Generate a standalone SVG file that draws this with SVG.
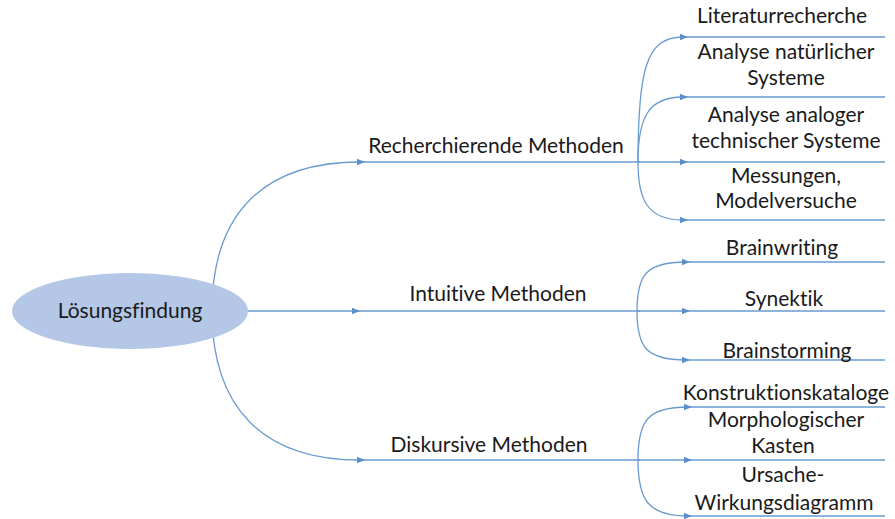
<svg xmlns="http://www.w3.org/2000/svg" xmlns:xlink="http://www.w3.org/1999/xlink" width="895" height="519" viewBox="0 0 895 519">
<defs>
<path id="ah" d="M-8,-3.2 L0,0 L-8,3.2 Z" fill="#5b8fc9"/>
<style>
.c{fill:none;stroke:#6a9bd1;stroke-width:1.3}
.t{font-family:Lato,"Liberation Sans",sans-serif;font-size:21px;fill:#1a1a1a;text-anchor:middle;font-variant-ligatures:none;font-feature-settings:"liga" 0,"dlig" 0}
</style>
</defs>
<rect width="895" height="519" fill="#ffffff"/>
<g id="connectors">
<path class="c" d="M212,311 C212,215 262,162 360,162 L640,162"/>
<path class="c" d="M212,311 C212,407 262,460 360,460 L640,460"/>
<path class="c" d="M248,311 L640,311"/>
<use href="#ah" xlink:href="#ah" x="365" y="162"/>
<use href="#ah" xlink:href="#ah" x="360" y="311"/>
<use href="#ah" xlink:href="#ah" x="365" y="460"/>
<path class="c" d="M638,162 C638,70 646,37 683,37 L885,37"/>
<path class="c" d="M638,162 C638,118 648,97 683,97 L885,97"/>
<path class="c" d="M638,162 L885,162"/>
<path class="c" d="M638,162 C638,198 646,220 683,220 L885,220"/>
<use href="#ah" xlink:href="#ah" x="688" y="37"/>
<use href="#ah" xlink:href="#ah" x="688" y="97"/>
<use href="#ah" xlink:href="#ah" x="688" y="162"/>
<use href="#ah" xlink:href="#ah" x="688" y="220"/>
<path class="c" d="M637,311 C637,275 646,262 686,262 L885,262"/>
<path class="c" d="M637,311 L885,311"/>
<path class="c" d="M637,311 C637,347 646,360 686,360 L885,360"/>
<use href="#ah" xlink:href="#ah" x="690" y="262"/>
<use href="#ah" xlink:href="#ah" x="690" y="311"/>
<use href="#ah" xlink:href="#ah" x="690" y="360"/>
<path class="c" d="M638,460 C638,420 648,407 688,407 L885,407"/>
<path class="c" d="M638,460 L885,460"/>
<path class="c" d="M638,460 C638,500 648,516 688,516 L885,516"/>
<use href="#ah" xlink:href="#ah" x="692" y="407"/>
<use href="#ah" xlink:href="#ah" x="692" y="460"/>
<use href="#ah" xlink:href="#ah" x="692" y="516"/>
</g>
<g id="root">
<ellipse cx="130" cy="311" rx="118" ry="38" fill="#b4c7e7"/>
<text class="t" x="130" y="318">Lösungsfindung</text>
</g>
<g id="recherchierende"><text class="t" x="496" y="153">Recherchierende Methoden</text></g>
<g id="intuitive"><text class="t" x="498" y="301">Intuitive Methoden</text></g>
<g id="diskursive"><text class="t" x="489" y="452">Diskursive Methoden</text></g>
<g id="literatur"><text class="t" x="782" y="23">Literaturrecherche</text></g>
<g id="natuerlich"><text class="t" x="786" y="59">Analyse natürlicher</text><text class="t" x="786" y="85">Systeme</text></g>
<g id="analog"><text class="t" x="786" y="122">Analyse analoger</text><text class="t" x="786" y="148">technischer Systeme</text></g>
<g id="messungen"><text class="t" x="786" y="183">Messungen,</text><text class="t" x="786" y="208">Modelversuche</text></g>
<g id="brainwriting"><text class="t" x="782" y="255">Brainwriting</text></g>
<g id="synektik"><text class="t" x="784" y="306">Synektik</text></g>
<g id="brainstorming"><text class="t" x="787" y="358">Brainstorming</text></g>
<g id="konstruktion"><text class="t" x="786" y="400">Konstruktionskataloge</text></g>
<g id="morph"><text class="t" x="786" y="427">Morphologischer</text><text class="t" x="783" y="453">Kasten</text></g>
<g id="ursache"><text class="t" x="783" y="482">Ursache-</text><text class="t" x="784" y="510">Wirkungsdiagramm</text></g>
</svg>
